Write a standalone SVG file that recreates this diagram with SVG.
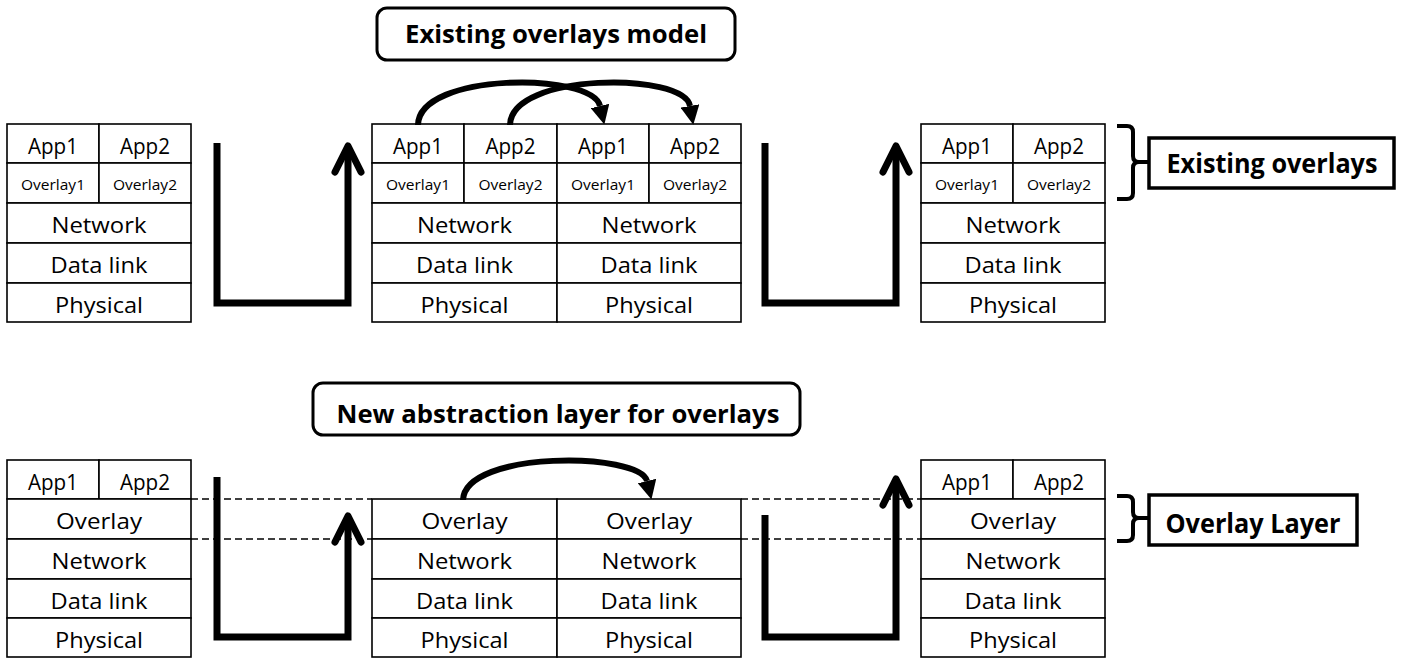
<svg xmlns="http://www.w3.org/2000/svg" width="1403" height="658" viewBox="0 0 1403 658">
<style>
.cell{fill:#fff;stroke:#000;stroke-width:1.6}
.t{font-family:"Open Sans","Liberation Sans",sans-serif;font-size:22px;fill:#000;text-anchor:middle;lengthAdjust:spacingAndGlyphs}
.s{font-family:"Open Sans","Liberation Sans",sans-serif;font-size:15px;fill:#000;text-anchor:middle}
.b{font-family:"Open Sans","Liberation Sans",sans-serif;font-size:25px;font-weight:bold;fill:#000;text-anchor:middle}
.tbox{fill:#fff;stroke:#000;stroke-width:3}
.u{fill:none;stroke:#000;stroke-width:7;stroke-linejoin:miter}
.chev{fill:none;stroke:#000;stroke-width:7;stroke-linecap:round;stroke-linejoin:round}
.arc{fill:none;stroke:#000;stroke-width:6}
.dash{fill:none;stroke:#000;stroke-width:1.5;stroke-dasharray:7 4}
.br{fill:none;stroke:#000;stroke-width:4;stroke-linecap:butt}
</style>
<defs>
<marker id="tri" markerUnits="userSpaceOnUse" viewBox="0 0 20 20" refX="0" refY="10" markerWidth="19" markerHeight="19" orient="auto">
<path d="M0,0 L20,10 L0,20 z" fill="#000"/>
</marker>
</defs>

<!-- dashed guides (drawn under arrows) -->
<g id="guides">
<line class="dash" x1="191" y1="499" x2="372" y2="499"/>
<line class="dash" x1="191" y1="539" x2="372" y2="539"/>
<line class="dash" x1="741" y1="499" x2="921" y2="499"/>
<line class="dash" x1="741" y1="539" x2="921" y2="539"/>
</g>

<g id="title-top">
<rect class="tbox" x="377" y="8" width="358" height="52" rx="10"/>
<text class="b" x="556" y="43" textLength="302" lengthAdjust="spacingAndGlyphs">Existing overlays model</text>
</g>

<g id="stack-top-left">
<rect class="cell" x="7" y="124" width="92" height="39"/>
<rect class="cell" x="99" y="124" width="92" height="39"/>
<rect class="cell" x="7" y="163" width="92" height="40"/>
<rect class="cell" x="99" y="163" width="92" height="40"/>
<rect class="cell" x="7" y="203" width="184" height="40"/>
<rect class="cell" x="7" y="243" width="184" height="40"/>
<rect class="cell" x="7" y="283" width="184" height="39"/>
<text class="t" x="53" y="154" textLength="50" lengthAdjust="spacingAndGlyphs">App1</text>
<text class="t" x="145" y="154" textLength="50" lengthAdjust="spacingAndGlyphs">App2</text>
<text class="s" x="53" y="190" textLength="64" lengthAdjust="spacingAndGlyphs">Overlay1</text>
<text class="s" x="145" y="190" textLength="64" lengthAdjust="spacingAndGlyphs">Overlay2</text>
<text class="t" x="99" y="233" textLength="95" lengthAdjust="spacingAndGlyphs">Network</text>
<text class="t" x="99" y="273" textLength="97" lengthAdjust="spacingAndGlyphs">Data link</text>
<text class="t" x="99" y="313" textLength="88" lengthAdjust="spacingAndGlyphs">Physical</text>
</g>

<g id="stack-top-middle">
<rect class="cell" x="372" y="124" width="92" height="39"/>
<rect class="cell" x="464" y="124" width="93" height="39"/>
<rect class="cell" x="557" y="124" width="92" height="39"/>
<rect class="cell" x="649" y="124" width="92" height="39"/>
<rect class="cell" x="372" y="163" width="92" height="40"/>
<rect class="cell" x="464" y="163" width="93" height="40"/>
<rect class="cell" x="557" y="163" width="92" height="40"/>
<rect class="cell" x="649" y="163" width="92" height="40"/>
<rect class="cell" x="372" y="203" width="185" height="40"/>
<rect class="cell" x="557" y="203" width="184" height="40"/>
<rect class="cell" x="372" y="243" width="185" height="40"/>
<rect class="cell" x="557" y="243" width="184" height="40"/>
<rect class="cell" x="372" y="283" width="185" height="39"/>
<rect class="cell" x="557" y="283" width="184" height="39"/>
<text class="t" x="418" y="154" textLength="50" lengthAdjust="spacingAndGlyphs">App1</text>
<text class="t" x="510.5" y="154" textLength="50" lengthAdjust="spacingAndGlyphs">App2</text>
<text class="t" x="603" y="154" textLength="50" lengthAdjust="spacingAndGlyphs">App1</text>
<text class="t" x="695" y="154" textLength="50" lengthAdjust="spacingAndGlyphs">App2</text>
<text class="s" x="418" y="190" textLength="64" lengthAdjust="spacingAndGlyphs">Overlay1</text>
<text class="s" x="510.5" y="190" textLength="64" lengthAdjust="spacingAndGlyphs">Overlay2</text>
<text class="s" x="603" y="190" textLength="64" lengthAdjust="spacingAndGlyphs">Overlay1</text>
<text class="s" x="695" y="190" textLength="64" lengthAdjust="spacingAndGlyphs">Overlay2</text>
<text class="t" x="464.5" y="233" textLength="95" lengthAdjust="spacingAndGlyphs">Network</text>
<text class="t" x="649" y="233" textLength="95" lengthAdjust="spacingAndGlyphs">Network</text>
<text class="t" x="464.5" y="273" textLength="97" lengthAdjust="spacingAndGlyphs">Data link</text>
<text class="t" x="649" y="273" textLength="97" lengthAdjust="spacingAndGlyphs">Data link</text>
<text class="t" x="464.5" y="313" textLength="88" lengthAdjust="spacingAndGlyphs">Physical</text>
<text class="t" x="649" y="313" textLength="88" lengthAdjust="spacingAndGlyphs">Physical</text>
</g>

<g id="stack-top-right">
<rect class="cell" x="921" y="124" width="92" height="39"/>
<rect class="cell" x="1013" y="124" width="92" height="39"/>
<rect class="cell" x="921" y="163" width="92" height="40"/>
<rect class="cell" x="1013" y="163" width="92" height="40"/>
<rect class="cell" x="921" y="203" width="184" height="40"/>
<rect class="cell" x="921" y="243" width="184" height="40"/>
<rect class="cell" x="921" y="283" width="184" height="39"/>
<text class="t" x="967" y="154" textLength="50" lengthAdjust="spacingAndGlyphs">App1</text>
<text class="t" x="1059" y="154" textLength="50" lengthAdjust="spacingAndGlyphs">App2</text>
<text class="s" x="967" y="190" textLength="64" lengthAdjust="spacingAndGlyphs">Overlay1</text>
<text class="s" x="1059" y="190" textLength="64" lengthAdjust="spacingAndGlyphs">Overlay2</text>
<text class="t" x="1013" y="233" textLength="95" lengthAdjust="spacingAndGlyphs">Network</text>
<text class="t" x="1013" y="273" textLength="97" lengthAdjust="spacingAndGlyphs">Data link</text>
<text class="t" x="1013" y="313" textLength="88" lengthAdjust="spacingAndGlyphs">Physical</text>
</g>

<g id="label-existing-overlays">
<path class="br" d="M1117,126 L1127,126 Q1133,126 1133,132 L1133,156 Q1133,162 1139,162 L1149,162 M1139,162 Q1133,162 1133,168 L1133,193 Q1133,199 1127,199 L1117,199"/>
<rect class="tbox" x="1149" y="138" width="245" height="50" style="stroke-width:3.5"/>
<text class="b" x="1272" y="173" textLength="211" lengthAdjust="spacingAndGlyphs" style="font-size:26px">Existing overlays</text>
</g>

<g id="title-bottom">
<rect class="tbox" x="313" y="383" width="487" height="52" rx="10"/>
<text class="b" x="558" y="423" textLength="443" lengthAdjust="spacingAndGlyphs">New abstraction layer for overlays</text>
</g>

<g id="stack-bottom-left">
<rect class="cell" x="7" y="460" width="92" height="39"/>
<rect class="cell" x="99" y="460" width="92" height="39"/>
<rect class="cell" x="7" y="499" width="184" height="40"/>
<rect class="cell" x="7" y="539" width="184" height="40"/>
<rect class="cell" x="7" y="579" width="184" height="39"/>
<rect class="cell" x="7" y="618" width="184" height="39"/>
<text class="t" x="53" y="490" textLength="50" lengthAdjust="spacingAndGlyphs">App1</text>
<text class="t" x="145" y="490" textLength="50" lengthAdjust="spacingAndGlyphs">App2</text>
<text class="t" x="99" y="529" textLength="86" lengthAdjust="spacingAndGlyphs">Overlay</text>
<text class="t" x="99" y="569" textLength="95" lengthAdjust="spacingAndGlyphs">Network</text>
<text class="t" x="99" y="609" textLength="97" lengthAdjust="spacingAndGlyphs">Data link</text>
<text class="t" x="99" y="648" textLength="88" lengthAdjust="spacingAndGlyphs">Physical</text>
</g>

<g id="stack-bottom-middle">
<rect class="cell" x="372" y="499" width="185" height="40"/>
<rect class="cell" x="557" y="499" width="184" height="40"/>
<rect class="cell" x="372" y="539" width="185" height="40"/>
<rect class="cell" x="557" y="539" width="184" height="40"/>
<rect class="cell" x="372" y="579" width="185" height="39"/>
<rect class="cell" x="557" y="579" width="184" height="39"/>
<rect class="cell" x="372" y="618" width="185" height="39"/>
<rect class="cell" x="557" y="618" width="184" height="39"/>
<text class="t" x="464.5" y="529" textLength="86" lengthAdjust="spacingAndGlyphs">Overlay</text>
<text class="t" x="649" y="529" textLength="86" lengthAdjust="spacingAndGlyphs">Overlay</text>
<text class="t" x="464.5" y="569" textLength="95" lengthAdjust="spacingAndGlyphs">Network</text>
<text class="t" x="649" y="569" textLength="95" lengthAdjust="spacingAndGlyphs">Network</text>
<text class="t" x="464.5" y="609" textLength="97" lengthAdjust="spacingAndGlyphs">Data link</text>
<text class="t" x="649" y="609" textLength="97" lengthAdjust="spacingAndGlyphs">Data link</text>
<text class="t" x="464.5" y="648" textLength="88" lengthAdjust="spacingAndGlyphs">Physical</text>
<text class="t" x="649" y="648" textLength="88" lengthAdjust="spacingAndGlyphs">Physical</text>
</g>

<g id="stack-bottom-right">
<rect class="cell" x="921" y="460" width="92" height="39"/>
<rect class="cell" x="1013" y="460" width="92" height="39"/>
<rect class="cell" x="921" y="499" width="184" height="40"/>
<rect class="cell" x="921" y="539" width="184" height="40"/>
<rect class="cell" x="921" y="579" width="184" height="39"/>
<rect class="cell" x="921" y="618" width="184" height="39"/>
<text class="t" x="967" y="490" textLength="50" lengthAdjust="spacingAndGlyphs">App1</text>
<text class="t" x="1059" y="490" textLength="50" lengthAdjust="spacingAndGlyphs">App2</text>
<text class="t" x="1013" y="529" textLength="86" lengthAdjust="spacingAndGlyphs">Overlay</text>
<text class="t" x="1013" y="569" textLength="95" lengthAdjust="spacingAndGlyphs">Network</text>
<text class="t" x="1013" y="609" textLength="97" lengthAdjust="spacingAndGlyphs">Data link</text>
<text class="t" x="1013" y="648" textLength="88" lengthAdjust="spacingAndGlyphs">Physical</text>
</g>

<g id="label-overlay-layer">
<path class="br" d="M1117,496 L1127,496 Q1133,496 1133,502 L1133,512 Q1133,518 1139,518 L1149,518 M1139,518 Q1133,518 1133,524 L1133,535 Q1133,541 1127,541 L1117,541"/>
<rect class="tbox" x="1149" y="495" width="208" height="50" style="stroke-width:3.5"/>
<text class="b" x="1253" y="533" textLength="175" lengthAdjust="spacingAndGlyphs" style="font-size:26px">Overlay Layer</text>
</g>

<g id="connectors">
<!-- top U arrows -->
<path class="u" d="M217,143 L217,303 L348,303 L348,148"/>
<polyline class="chev" points="335,172 348,146 361,172"/>
<path class="u" d="M765,143 L765,303 L896,303 L896,148"/>
<polyline class="chev" points="883,172 896,146 909,172"/>
<!-- bottom U arrows -->
<path class="u" d="M217,477 L217,637 L348,637 L348,518"/>
<polyline class="chev" points="335,542 348,516 361,542"/>
<path class="u" d="M765,515 L765,637 L896,637 L896,480"/>
<polyline class="chev" points="883,505 896,479 909,505"/>
<!-- curved arrows top -->
<path class="arc" marker-end="url(#tri)" d="M418,125 C419,72 592,72 600,106"/>
<path class="arc" marker-end="url(#tri)" d="M510,125 C511,72 684,72 690,106"/>
<!-- curved arrow bottom -->
<path class="arc" marker-end="url(#tri)" d="M463,500 C465,450 640,452 647,481"/>
</g>
</svg>
